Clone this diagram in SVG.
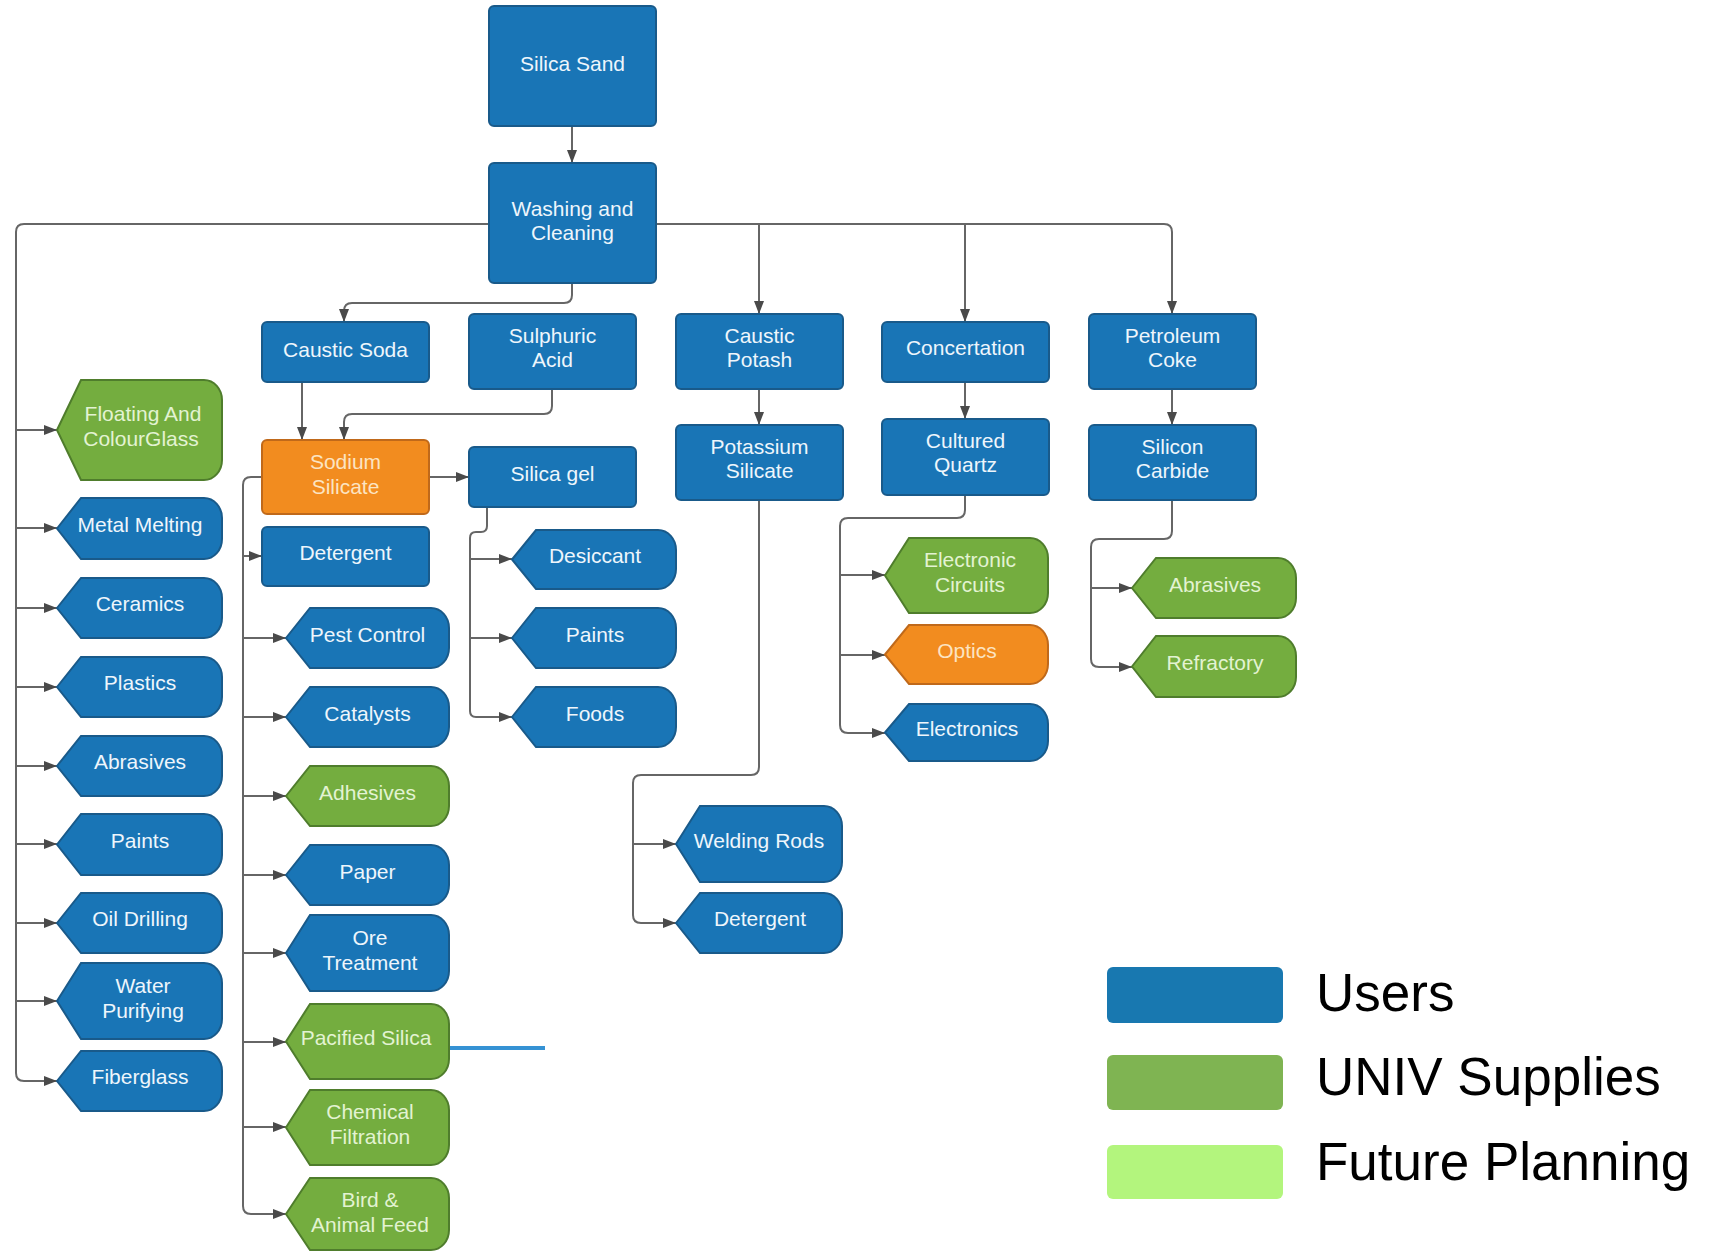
<svg xmlns="http://www.w3.org/2000/svg" width="1717" height="1252" viewBox="0 0 1717 1252">
<defs>
<marker id="arr" markerUnits="userSpaceOnUse" markerWidth="14" markerHeight="11" refX="13" refY="5" orient="auto">
<path d="M0,0 L13,5 L0,10 Z" fill="#4a4a4a"/>
</marker>
<style>
.bg{fill:#ffffff}
.blue{fill:#1975b6;stroke:#195a8a;stroke-width:2}
.green{fill:#74ad3f;stroke:#4f7d2c;stroke-width:2}
.orange{fill:#f28c1f;stroke:#c0691a;stroke-width:2}
text{font-family:"Liberation Sans",Arial,sans-serif;font-size:21px;text-anchor:middle}
.tb{fill:#eef6fc}
.tg{fill:#e3f3d2}
.to{fill:#fce4c2}
.c{fill:none;stroke:#666;stroke-width:2}
.ca{fill:none;stroke:#666;stroke-width:2;marker-end:url(#arr)}
.leg{font-size:53px;fill:#000;text-anchor:start}
</style>
</defs>
<rect class="bg" x="0" y="0" width="1717" height="1252"/>

<g id="connectors">
<path class="ca" d="M572,126 V163"/>
<path class="ca" d="M489,224 H24 Q16,224 16,232 V1073 Q16,1081 24,1081 H57"/>
<path class="ca" d="M16,430 H57"/>
<path class="ca" d="M16,528 H57"/>
<path class="ca" d="M16,608 H57"/>
<path class="ca" d="M16,687 H57"/>
<path class="ca" d="M16,766 H57"/>
<path class="ca" d="M16,844 H57"/>
<path class="ca" d="M16,923 H57"/>
<path class="ca" d="M16,1001 H57"/>
<path class="ca" d="M656,224 H1164 Q1172,224 1172,232 V314"/>
<path class="ca" d="M759,224 V314"/>
<path class="ca" d="M965,224 V322"/>
<path class="ca" d="M572,283 V295 Q572,303 564,303 H352 Q344,303 344,311 V322"/>
<path class="ca" d="M302,382 V440"/>
<path class="ca" d="M552,389 V406 Q552,414 544,414 H352 Q344,414 344,422 V440"/>
<path class="ca" d="M429,477 H469"/>
<path class="ca" d="M262,477 H251 Q243,477 243,485 V1206 Q243,1214 251,1214 H286"/>
<path class="ca" d="M243,556 H262"/>
<path class="ca" d="M243,638 H286"/>
<path class="ca" d="M243,717 H286"/>
<path class="ca" d="M243,796 H286"/>
<path class="ca" d="M243,875 H286"/>
<path class="ca" d="M243,953 H286"/>
<path class="ca" d="M243,1042 H286"/>
<path class="ca" d="M243,1127 H286"/>
<path class="ca" d="M487,507 V526 Q487,532 481,532 H476 Q470,532 470,538 V711 Q470,717 476,717 H512"/>
<path class="ca" d="M470,559 H512"/>
<path class="ca" d="M470,638 H512"/>
<path class="ca" d="M759,389 V425"/>
<path class="ca" d="M965,382 V419"/>
<path class="ca" d="M1172,389 V425"/>
<path class="ca" d="M759,500 V767 Q759,775 751,775 H641 Q633,775 633,783 V915 Q633,923 641,923 H676"/>
<path class="ca" d="M633,844 H676"/>
<path class="ca" d="M965,495 V510 Q965,518 957,518 H848 Q840,518 840,526 V725 Q840,733 848,733 H885"/>
<path class="ca" d="M840,575 H885"/>
<path class="ca" d="M840,655 H885"/>
<path class="ca" d="M1172,500 V531 Q1172,539 1164,539 H1099 Q1091,539 1091,547 V659 Q1091,667 1099,667 H1132"/>
<path class="ca" d="M1091,588 H1132"/>
<path d="M449,1048 H545" fill="none" stroke="#3592d4" stroke-width="4"/>
</g>

<g id="silica-sand"><rect class="blue" x="489" y="6" width="167" height="120" rx="5"/><text class="tb" x="572.5" y="71">Silica Sand</text></g>
<g id="washing-cleaning"><rect class="blue" x="489" y="163" width="167" height="120" rx="5"/><text class="tb" x="572.5" y="216">Washing and</text><text class="tb" x="572.5" y="240">Cleaning</text></g>
<g id="caustic-soda"><rect class="blue" x="262" y="322" width="167" height="60" rx="5"/><text class="tb" x="345.5" y="357">Caustic Soda</text></g>
<g id="sulphuric-acid"><rect class="blue" x="469" y="314" width="167" height="75" rx="5"/><text class="tb" x="552.5" y="343">Sulphuric</text><text class="tb" x="552.5" y="367">Acid</text></g>
<g id="caustic-potash"><rect class="blue" x="676" y="314" width="167" height="75" rx="5"/><text class="tb" x="759.5" y="343">Caustic</text><text class="tb" x="759.5" y="367">Potash</text></g>
<g id="concertation"><rect class="blue" x="882" y="322" width="167" height="60" rx="5"/><text class="tb" x="965.5" y="355">Concertation</text></g>
<g id="petroleum-coke"><rect class="blue" x="1089" y="314" width="167" height="75" rx="5"/><text class="tb" x="1172.5" y="343">Petroleum</text><text class="tb" x="1172.5" y="367">Coke</text></g>
<g id="sodium-silicate"><rect class="orange" x="262" y="440" width="167" height="74" rx="5"/><text class="to" x="345.5" y="469">Sodium</text><text class="to" x="345.5" y="494">Silicate</text></g>
<g id="silica-gel"><rect class="blue" x="469" y="447" width="167" height="60" rx="5"/><text class="tb" x="552.5" y="481">Silica gel</text></g>
<g id="potassium-silicate"><rect class="blue" x="676" y="425" width="167" height="75" rx="5"/><text class="tb" x="759.5" y="454">Potassium</text><text class="tb" x="759.5" y="478">Silicate</text></g>
<g id="cultured-quartz"><rect class="blue" x="882" y="419" width="167" height="76" rx="5"/><text class="tb" x="965.5" y="448">Cultured</text><text class="tb" x="965.5" y="472">Quartz</text></g>
<g id="silicon-carbide"><rect class="blue" x="1089" y="425" width="167" height="75" rx="5"/><text class="tb" x="1172.5" y="454">Silicon</text><text class="tb" x="1172.5" y="478">Carbide</text></g>
<g id="detergent-1"><rect class="blue" x="262" y="527" width="167" height="59" rx="5"/><text class="tb" x="345.5" y="560">Detergent</text></g>

<g id="floating-colourglass"><path class="green" d="M57,430 L81,380 H204 C214,380 222,389 222,400 V460 C222,471 214,480 204,480 H81 Z"/><text class="tg" x="143" y="421">Floating And</text><text class="tg" x="141" y="446">ColourGlass</text></g>
<g id="metal-melting"><path class="blue" d="M57,528.5 L81,498 H204 C214,498 222,507 222,518 V539 C222,550 214,559 204,559 H81 Z"/><text class="tb" x="140" y="532">Metal Melting</text></g>
<g id="ceramics"><path class="blue" d="M57,608 L81,578 H204 C214,578 222,587 222,598 V618 C222,629 214,638 204,638 H81 Z"/><text class="tb" x="140" y="611">Ceramics</text></g>
<g id="plastics"><path class="blue" d="M57,687 L81,657 H204 C214,657 222,666 222,677 V697 C222,708 214,717 204,717 H81 Z"/><text class="tb" x="140" y="690">Plastics</text></g>
<g id="abrasives-1"><path class="blue" d="M57,766 L81,736 H204 C214,736 222,745 222,756 V776 C222,787 214,796 204,796 H81 Z"/><text class="tb" x="140" y="769">Abrasives</text></g>
<g id="paints-1"><path class="blue" d="M57,844.5 L81,814 H204 C214,814 222,823 222,834 V855 C222,866 214,875 204,875 H81 Z"/><text class="tb" x="140" y="848">Paints</text></g>
<g id="oil-drilling"><path class="blue" d="M57,923 L81,893 H204 C214,893 222,902 222,913 V933 C222,944 214,953 204,953 H81 Z"/><text class="tb" x="140" y="926">Oil Drilling</text></g>
<g id="water-purifying"><path class="blue" d="M57,1001 L81,963 H204 C214,963 222,972 222,983 V1019 C222,1030 214,1039 204,1039 H81 Z"/><text class="tb" x="143" y="993">Water</text><text class="tb" x="143" y="1018">Purifying</text></g>
<g id="fiberglass"><path class="blue" d="M57,1081 L81,1051 H204 C214,1051 222,1060 222,1071 V1091 C222,1102 214,1111 204,1111 H81 Z"/><text class="tb" x="140" y="1084">Fiberglass</text></g>

<g id="pest-control"><path class="blue" d="M286,638 L310,608 H431 C441,608 449,617 449,628 V648 C449,659 441,668 431,668 H310 Z"/><text class="tb" x="367.5" y="642">Pest Control</text></g>
<g id="catalysts"><path class="blue" d="M286,717 L310,687 H431 C441,687 449,696 449,707 V727 C449,738 441,747 431,747 H310 Z"/><text class="tb" x="367.5" y="721">Catalysts</text></g>
<g id="adhesives"><path class="green" d="M286,796 L310,766 H431 C441,766 449,775 449,786 V806 C449,817 441,826 431,826 H310 Z"/><text class="tg" x="367.5" y="800">Adhesives</text></g>
<g id="paper"><path class="blue" d="M286,875 L310,845 H431 C441,845 449,854 449,865 V885 C449,896 441,905 431,905 H310 Z"/><text class="tb" x="367.5" y="879">Paper</text></g>
<g id="ore-treatment"><path class="blue" d="M286,953 L310,915 H431 C441,915 449,924 449,935 V971 C449,982 441,991 431,991 H310 Z"/><text class="tb" x="370" y="945">Ore</text><text class="tb" x="370" y="970">Treatment</text></g>
<g id="pacified-silica"><path class="green" d="M286,1041.5 L310,1004 H431 C441,1004 449,1013 449,1024 V1059 C449,1070 441,1079 431,1079 H310 Z"/><text class="tg" x="366" y="1045">Pacified Silica</text></g>
<g id="chemical-filtration"><path class="green" d="M286,1127.5 L310,1090 H431 C441,1090 449,1099 449,1110 V1145 C449,1156 441,1165 431,1165 H310 Z"/><text class="tg" x="370" y="1119">Chemical</text><text class="tg" x="370" y="1144">Filtration</text></g>
<g id="bird-animal-feed"><path class="green" d="M286,1214 L310,1178 H431 C441,1178 449,1187 449,1198 V1230 C449,1241 441,1250 431,1250 H310 Z"/><text class="tg" x="370" y="1207">Bird &amp;</text><text class="tg" x="370" y="1232">Animal Feed</text></g>

<g id="desiccant"><path class="blue" d="M512,559.5 L536,530 H658 C668,530 676,539 676,550 V569 C676,580 668,589 658,589 H536 Z"/><text class="tb" x="595" y="563">Desiccant</text></g>
<g id="paints-2"><path class="blue" d="M512,638 L536,608 H658 C668,608 676,617 676,628 V648 C676,659 668,668 658,668 H536 Z"/><text class="tb" x="595" y="642">Paints</text></g>
<g id="foods"><path class="blue" d="M512,717 L536,687 H658 C668,687 676,696 676,707 V727 C676,738 668,747 658,747 H536 Z"/><text class="tb" x="595" y="721">Foods</text></g>

<g id="electronic-circuits"><path class="green" d="M885,575.5 L909,538 H1030 C1040,538 1048,547 1048,558 V593 C1048,604 1040,613 1030,613 H909 Z"/><text class="tg" x="970" y="567">Electronic</text><text class="tg" x="970" y="592">Circuits</text></g>
<g id="optics"><path class="orange" d="M885,654.5 L909,625 H1030 C1040,625 1048,634 1048,645 V664 C1048,675 1040,684 1030,684 H909 Z"/><text class="to" x="967" y="658">Optics</text></g>
<g id="electronics"><path class="blue" d="M885,732.5 L909,704 H1030 C1040,704 1048,713 1048,724 V741 C1048,752 1040,761 1030,761 H909 Z"/><text class="tb" x="967" y="736">Electronics</text></g>

<g id="abrasives-2"><path class="green" d="M1132,588 L1156,558 H1278 C1288,558 1296,567 1296,578 V598 C1296,609 1288,618 1278,618 H1156 Z"/><text class="tg" x="1215" y="592">Abrasives</text></g>
<g id="refractory"><path class="green" d="M1132,666.5 L1156,636 H1278 C1288,636 1296,645 1296,656 V677 C1296,688 1288,697 1278,697 H1156 Z"/><text class="tg" x="1215" y="670">Refractory</text></g>

<g id="welding-rods"><path class="blue" d="M676,844 L700,806 H824 C834,806 842,815 842,826 V862 C842,873 834,882 824,882 H700 Z"/><text class="tb" x="759" y="848">Welding Rods</text></g>
<g id="detergent-2"><path class="blue" d="M676,923 L700,893 H824 C834,893 842,902 842,913 V933 C842,944 834,953 824,953 H700 Z"/><text class="tb" x="760" y="926">Detergent</text></g>

<g id="legend">
<rect x="1107" y="967" width="176" height="56" rx="6" fill="#1878b0"/>
<text class="leg" x="1316" y="1011">Users</text>
<rect x="1107" y="1055" width="176" height="55" rx="6" fill="#7fb452"/>
<text class="leg" x="1316" y="1095">UNIV Supplies</text>
<rect x="1107" y="1145" width="176" height="54" rx="6" fill="#b3f57d"/>
<text class="leg" x="1316" y="1180">Future Planning</text>
</g>
</svg>
